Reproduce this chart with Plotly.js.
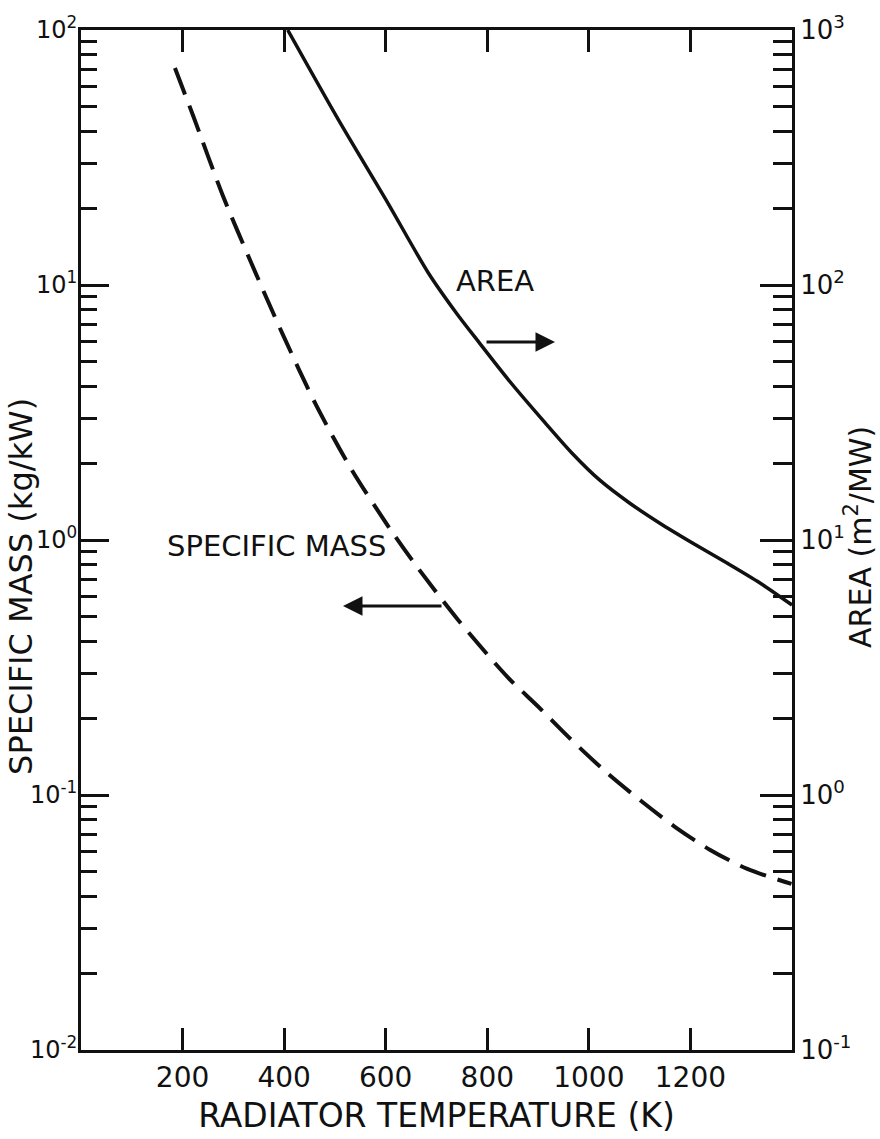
<!DOCTYPE html>
<html>
<head>
<meta charset="utf-8">
<script src="https://cdn.plot.ly/plotly-3.0.1.min.js"></script>
<style>html,body{margin:0;padding:0;background:#fff;}#chart{width:880px;height:1139px;}</style>
</head>
<body>
<div id="chart"></div>
<script>
// AREA curve (solid, right axis, m^2/MW) vs radiator temperature (K)
const temperatureArea = [407, 507, 604, 684, 739, 783, 842, 914, 967, 1021, 1080, 1139, 1204, 1272, 1337, 1400];
const areaValues = [1000, 444, 210, 111.5, 77.7, 59.8, 42.4, 28.8, 21.9, 17.2, 13.97, 11.66, 9.73, 8.12, 6.78, 5.56];

// SPECIFIC MASS curve (dashed, left axis, kg/kW) vs radiator temperature (K)
const temperatureMass = [185, 221, 279, 337, 397, 463, 532, 610, 659, 741, 840, 899, 964, 1036, 1103, 1170, 1239, 1312, 1399];
const specificMass = [70.9, 46.0, 22.5, 11.98, 6.42, 3.38, 1.90, 1.094, 0.798, 0.490, 0.290, 0.2234, 0.1658, 0.1220, 0.0947, 0.0749, 0.0609, 0.0513, 0.0448];

const xTickVals = [200, 400, 600, 800, 1000, 1200];
const xTickText = ['200', '400', '600', '800', '1000', '1200'];
const leftTickVals = [0.01, 0.1, 1, 10, 100];
const leftTickText = ['10<sup>-2</sup>', '10<sup>-1</sup>', '10<sup>0</sup>', '10<sup>1</sup>', '10<sup>2</sup>'];
const rightTickVals = [0.1, 1, 10, 100, 1000];
const rightTickText = ['10<sup>-1</sup>', '10<sup>0</sup>', '10<sup>1</sup>', '10<sup>2</sup>', '10<sup>3</sup>'];

const xTitle = 'RADIATOR TEMPERATURE (K)';
const leftTitle = 'SPECIFIC MASS (kg/kW)';
const rightTitle = 'AREA (m<sup>2</sup>/MW)';
const areaLabel = 'AREA';
const massLabel = 'SPECIFIC MASS';

function minorTicks(lo, hi) {
  const out = [];
  for (let e = lo; e < hi; e++) for (let d = 2; d <= 9; d++) out.push(d * Math.pow(10, e));
  return out;
}

const FONT = 'DejaVu Sans, Liberation Sans, sans-serif';
const INK = '#111';

const traces = [
  {
    x: temperatureMass, y: specificMass, type: 'scatter', mode: 'lines',
    line: {color: INK, width: 4, dash: '28px,12px', shape: 'spline', smoothing: 0.8},
    yaxis: 'y', name: massLabel
  },
  {
    x: temperatureArea, y: areaValues, type: 'scatter', mode: 'lines',
    line: {color: INK, width: 3.5, shape: 'spline', smoothing: 0.8},
    yaxis: 'y2', name: areaLabel
  }
];

const axisCommon = {
  showline: true, linecolor: INK, linewidth: 3,
  ticks: 'inside', tickcolor: INK, tickwidth: 3,
  showgrid: false, zeroline: false,
  tickfont: {family: FONT, size: 26, color: INK}
};

const layout = {
  width: 880, height: 1139,
  margin: {l: 81, r: 88, t: 30, b: 89},
  paper_bgcolor: '#fff', plot_bgcolor: '#fff',
  showlegend: false,
  font: {family: FONT, color: INK},
  xaxis: Object.assign({}, axisCommon, {
    range: [0, 1400], tickmode: 'array', tickvals: xTickVals, ticktext: xTickText,
    ticklen: 22, mirror: 'ticks', tickfont: {family: FONT, size: 28, color: INK},
    title: {text: xTitle, font: {family: FONT, size: 33, color: INK}, standoff: 12}
  }),
  yaxis: Object.assign({}, axisCommon, {
    type: 'log', range: [-2, 2], tickmode: 'array', tickvals: leftTickVals, ticktext: leftTickText,
    ticklen: 28, ticklabelstandoff: -4, tickfont: {family: FONT, size: 24, color: INK},
    minor: {ticks: 'inside', ticklen: 16, tickwidth: 3, tickcolor: INK, tickmode: 'array', tickvals: minorTicks(-2, 2), showgrid: false}
  }),
  yaxis2: Object.assign({}, axisCommon, {
    type: 'log', range: [-1, 3], overlaying: 'y', side: 'right',
    tickmode: 'array', tickvals: rightTickVals, ticktext: rightTickText,
    ticklen: 32,
    minor: {ticks: 'inside', ticklen: 19, tickwidth: 3, tickcolor: INK, tickmode: 'array', tickvals: minorTicks(-1, 3), showgrid: false}
  }),
  annotations: [
    {xref: 'paper', yref: 'paper', x: -0.0844, y: 0.455, text: leftTitle, textangle: -90, showarrow: false,
     xanchor: 'center', yanchor: 'middle', font: {family: FONT, size: 32, color: INK}},
    {xref: 'paper', yref: 'paper', x: 1.0942, y: 0.503, text: rightTitle, textangle: -90, showarrow: false,
     xanchor: 'center', yanchor: 'middle', font: {family: FONT, size: 30, color: INK}},
    {xref: 'paper', yref: 'paper', x: 0.5823, y: 0.754, text: areaLabel, showarrow: false,
     xanchor: 'center', yanchor: 'middle', font: {family: FONT, size: 29, color: INK}},
    {xref: 'paper', yref: 'paper', x: 0.6667, y: 0.6941, text: '', showarrow: true,
     ax: -70, ay: 0, arrowhead: 2, arrowsize: 1.3, arrowwidth: 3, arrowcolor: INK},
    {xref: 'paper', yref: 'paper', x: 0.2743, y: 0.4941, text: massLabel, showarrow: false,
     xanchor: 'center', yanchor: 'middle', font: {family: FONT, size: 29, color: INK}},
    {xref: 'paper', yref: 'paper', x: 0.3685, y: 0.4353, text: '', showarrow: true,
     ax: 100, ay: 0, arrowhead: 2, arrowsize: 1.3, arrowwidth: 3, arrowcolor: INK}
  ]
};

Plotly.newPlot('chart', traces, layout, {displayModeBar: false, staticPlot: true});
</script>
</body>
</html>
